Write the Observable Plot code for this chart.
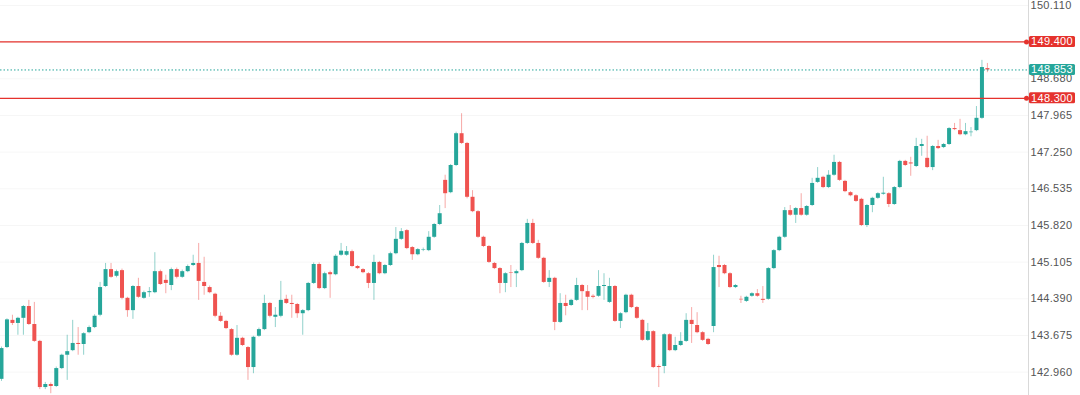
<!DOCTYPE html>
<html><head><meta charset="utf-8">
<script src="https://cdn.jsdelivr.net/npm/d3@7"></script>
<script src="https://cdn.jsdelivr.net/npm/@observablehq/plot@0.6"></script>
<style>body{margin:0;background:#fff;}svg{display:block}</style>
</head><body><div id="chart"></div>
<script>
const opens = [
142.82,143.44,143.97,143.91,144.01,144.24,143.89,143.56,142.66,142.72,
142.68,143.03,143.29,143.38,143.52,143.50,143.73,143.83,144.07,144.63,
144.96,144.83,144.94,144.40,144.16,144.63,144.40,144.51,144.51,144.92,
144.75,144.65,144.96,144.81,144.92,145.04,145.08,144.71,144.61,144.48,
144.05,143.95,143.79,143.29,143.62,143.44,143.05,143.66,143.79,144.30,
144.03,144.05,144.38,144.30,144.28,144.10,144.16,144.69,145.06,144.59,
144.90,144.86,145.24,145.24,145.31,145.02,144.96,144.88,144.69,145.10,
144.88,145.04,145.27,145.55,145.72,145.39,145.25,145.34,145.33,145.59,
145.84,146.70,146.46,146.99,147.61,147.42,146.37,146.09,145.59,145.41,
145.08,144.98,144.69,144.90,144.88,144.94,145.47,145.86,145.47,145.18,
144.71,144.79,143.93,144.30,144.26,144.36,144.65,144.53,144.44,144.44,
144.63,144.32,144.63,143.95,144.12,144.46,144.22,143.97,143.58,143.75,
143.07,143.07,143.69,143.38,143.48,143.56,143.97,143.87,143.73,143.60,
143.85,145.04,145.04,144.88,144.61,144.38,144.34,144.44,144.49,144.38,
144.38,144.98,145.33,145.59,146.11,146.02,146.15,146.02,146.21,146.66,
146.76,146.56,146.80,147.05,146.68,146.46,146.40,146.33,145.82,146.21,
146.35,146.43,146.44,146.23,146.56,147.07,147.04,146.97,147.36,147.13,
146.95,147.36,147.34,147.40,147.71,147.67,147.59,147.63,147.67,147.91,
148.88];
const highs = [
143.45,144.00,144.07,144.03,144.26,144.36,144.32,143.58,142.76,142.75,
143.06,143.31,143.68,143.97,143.83,143.73,143.86,144.08,144.71,145.08,
145.08,144.95,144.97,144.42,144.65,144.79,144.54,144.61,145.29,144.95,
144.85,144.99,144.99,144.95,145.05,145.24,145.47,145.20,144.64,144.50,
144.12,143.97,143.81,143.87,143.64,143.46,143.66,143.82,144.46,144.32,
144.22,144.73,144.46,144.46,144.30,144.18,144.71,145.09,145.09,144.91,
144.93,145.25,145.47,145.41,145.34,145.04,144.98,144.90,145.24,145.12,
145.06,145.30,145.78,145.76,145.74,145.41,145.37,145.38,145.70,145.86,
146.21,146.80,147.01,147.64,148.00,147.44,146.50,146.11,145.61,145.43,
145.10,145.00,144.90,145.04,144.95,145.49,145.94,145.94,145.53,145.20,
144.94,144.81,144.49,144.46,144.38,144.79,144.67,144.65,144.47,144.94,
144.88,144.79,144.65,144.12,144.48,144.48,144.24,143.99,143.91,143.77,
143.10,143.71,143.71,143.64,143.73,144.10,144.22,144.12,143.75,143.62,
145.24,145.22,145.06,144.90,144.67,144.44,144.44,144.51,144.57,144.63,
145.00,145.35,145.61,146.17,146.21,146.17,146.44,146.21,146.74,146.95,
146.78,146.89,147.19,147.07,146.70,146.48,146.42,146.35,146.23,146.37,
146.46,146.76,146.46,146.58,147.09,147.09,147.15,147.52,147.50,147.56,
147.38,147.48,147.42,147.73,147.81,147.89,147.81,147.73,148.14,149.04,
148.98];
const lows = [
142.78,143.42,143.87,143.68,143.68,143.87,143.54,142.62,142.62,142.54,
142.66,143.01,142.80,143.36,143.29,143.29,143.71,143.81,144.04,144.61,
144.79,144.80,144.37,144.03,143.99,144.40,144.38,144.42,144.49,144.65,
144.49,144.55,144.78,144.79,144.90,145.02,144.36,144.46,144.49,144.02,
143.93,143.79,143.27,143.27,143.46,142.80,142.93,143.64,143.77,144.02,
143.83,144.02,144.28,144.01,144.01,143.68,144.14,144.67,144.57,144.57,
144.40,144.84,145.22,145.22,145.00,144.96,144.88,144.59,144.36,144.86,
144.86,145.02,145.25,145.53,145.35,145.14,145.23,145.31,145.31,145.57,
145.82,146.15,146.44,146.97,147.40,146.34,146.07,145.57,145.39,145.08,
144.96,144.49,144.51,144.61,144.61,144.92,145.45,145.45,145.16,144.69,
144.61,143.77,143.91,144.06,144.24,144.34,144.16,144.16,144.39,144.42,
144.36,144.30,143.93,143.81,144.10,144.20,143.99,143.56,143.56,143.03,
142.66,142.93,143.36,143.36,143.46,143.54,143.52,143.71,143.56,143.48,
143.73,144.61,144.86,144.59,144.59,144.30,144.32,144.42,144.42,144.30,
144.36,144.96,145.31,145.57,146.00,145.86,146.00,146.00,146.19,146.64,
146.54,146.54,146.78,146.68,146.46,146.38,146.27,145.80,145.78,146.07,
146.33,146.41,146.17,146.21,146.54,146.97,146.78,146.95,147.17,146.93,
146.89,147.30,147.32,147.38,147.67,147.57,147.57,147.55,147.65,147.89,
148.80];
const closes = [
143.42,143.98,143.91,144.01,144.24,143.89,143.56,142.66,142.72,142.68,
143.03,143.29,143.36,143.52,143.50,143.71,143.83,144.05,144.61,144.96,
144.81,144.92,144.40,144.16,144.63,144.42,144.51,144.53,144.92,144.67,
144.69,144.96,144.81,144.92,145.02,145.08,144.73,144.63,144.51,144.05,
143.95,143.81,143.29,143.62,143.48,143.05,143.64,143.79,144.30,144.05,
144.07,144.36,144.30,144.28,144.10,144.16,144.69,145.06,144.59,144.88,
144.86,145.22,145.32,145.31,145.02,144.98,144.90,144.69,145.10,144.88,
145.04,145.27,145.55,145.70,145.37,145.25,145.35,145.35,145.59,145.84,
146.05,146.44,146.99,147.61,147.42,146.37,146.09,145.59,145.41,145.10,
144.98,144.69,144.88,144.89,144.92,145.47,145.86,145.47,145.18,144.71,
144.79,143.93,144.30,144.24,144.36,144.65,144.53,144.42,144.42,144.63,
144.65,144.63,143.95,144.10,144.46,144.22,144.01,143.58,143.75,143.05,
143.05,143.69,143.38,143.48,143.56,143.97,143.89,143.73,143.58,143.50,
145.00,145.00,144.88,144.61,144.65,144.37,144.42,144.49,144.44,144.36,
144.98,145.33,145.59,146.11,146.02,146.15,146.02,146.19,146.64,146.74,
146.56,146.80,147.05,146.70,146.48,146.40,146.29,145.82,146.21,146.35,
146.44,146.45,146.23,146.56,147.07,146.99,147.02,147.36,147.40,146.95,
147.36,147.32,147.40,147.71,147.69,147.59,147.65,147.64,147.91,148.90,
148.853];
const yTicks = [150.110,149.395,148.680,147.965,147.250,146.535,145.820,145.105,144.390,143.675,142.960];
const levelValues = [149.400, 148.300];
const lastPrice = 148.853;

const UP = "#26a69a", DOWN = "#ef5350", LEVEL = "#e5322d";
const xDomain = [-0.18, 187.5];
const candles = opens.map((o, i) => ({i, open: o, high: highs[i], low: lows[i], close: closes[i], up: closes[i] >= o}));
const ups = candles.filter(d => d.up), downs = candles.filter(d => !d.up);

const chart = Plot.plot({
  width: 1080, height: 395,
  marginTop: 0, marginBottom: 0, marginLeft: 0, marginRight: 52,
  x: {domain: xDomain, axis: null},
  y: {domain: [142.505, 150.2075], axis: null},
  style: {fontFamily: "'Liberation Sans', Arial, sans-serif", background: "#fff", color: "#555"},
  marks: [
    Plot.gridY(yTicks, {stroke: "#000", strokeOpacity: 0.035}),
    Plot.ruleX([xDomain[1]], {stroke: "#d9d9d9"}),
    Plot.axisY(yTicks, {anchor: "right", tickSize: 0, tickPadding: 2, tickFormat: d3.format(".3f"), fontSize: 11}),
    Plot.ruleX(ups, {x: "i", y1: "low", y2: "high", stroke: UP, strokeOpacity: 0.5}),
    Plot.ruleX(downs, {x: "i", y1: "low", y2: "high", stroke: DOWN, strokeOpacity: 0.5}),
    Plot.ruleX(ups, {x: "i", y1: "open", y2: "close", stroke: UP, strokeWidth: 4}),
    Plot.ruleX(downs, {x: "i", y1: "open", y2: "close", stroke: DOWN, strokeWidth: 4}),
    Plot.ruleY(levelValues, {stroke: LEVEL, strokeWidth: 1.2}),
    Plot.ruleY([lastPrice], {stroke: UP, strokeDasharray: "1.5,2"}),
    Plot.dot(levelValues, {x: () => xDomain[1], y: d => d, r: 2.5, fill: LEVEL, stroke: null, dx: -2})
  ]
});

const ys = chart.scale("y");
const svg = d3.select(chart);
const tags = [
  {v: levelValues[0], fill: LEVEL},
  {v: lastPrice, fill: UP},
  {v: levelValues[1], fill: LEVEL}
];
const g = svg.append("g");
tags.forEach(t => {
  const yy = ys.apply(t.v);
  g.append("rect").attr("x", 1029).attr("y", yy - 5.5).attr("width", 46).attr("height", 11).attr("rx", 1.5).attr("fill", t.fill);
  g.append("text").attr("x", 1052).attr("y", yy).attr("dy", "0.36em").attr("text-anchor", "middle")
    .attr("fill", "#fff").attr("font-size", 11).attr("letter-spacing", "0.3").text(d3.format(".3f")(t.v));
});
svg.selectAll("[aria-label='y-axis tick label'] text").attr("letter-spacing", "0.3");
document.getElementById("chart").appendChild(chart);
</script>
</body></html>
